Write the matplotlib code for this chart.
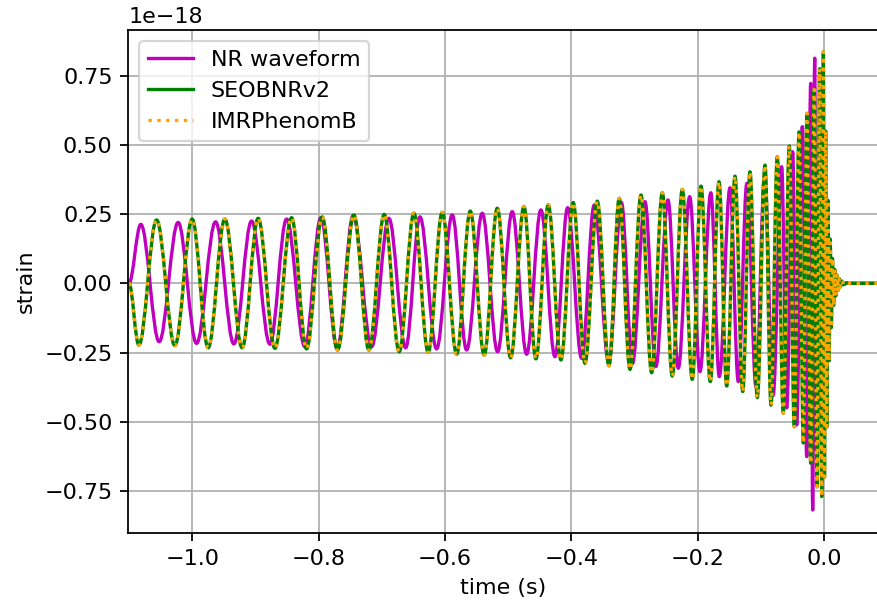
import numpy as np
import matplotlib
matplotlib.use("Agg")
from matplotlib import pyplot as plt
from matplotlib.path import Path
from matplotlib.patches import PathPatch

# turning points of each waveform (time in s, strain in 1e-18)
nr_t = [-1.100, -1.0812, -1.0522, -1.0222, -0.993, -0.963, -0.934, -0.906, -0.877,
        -0.8506, -0.8217, -0.7964, -0.7706, -0.7453, -0.7161, -0.6888, -0.6623,
        -0.6397, -0.6133, -0.5886, -0.5658, -0.5411, -0.5168, -0.4937, -0.4709,
        -0.4483, -0.4261, -0.406, -0.3839, -0.3639, -0.341, -0.321, -0.3035,
        -0.2837, -0.2665, -0.2473, -0.231, -0.213, -0.1967, -0.1795, -0.1661,
        -0.1492, -0.1361, -0.1225, -0.108, -0.0945, -0.081, -0.0674, -0.0595,
        -0.050, -0.0437, -0.0348, -0.0278, -0.0215, -0.0184, -0.0152, -0.013,
        -0.011, -0.009, -0.007, -0.005, -0.003, 0.0, 0.005, 0.085]
nr_h = [0.0, 0.213, -0.211, 0.220, -0.217, 0.222, -0.219, 0.225, -0.220,
        0.232, -0.229, 0.237, -0.235, 0.244, -0.229, 0.235, -0.233,
        0.240, -0.237, 0.247, -0.241, 0.253, -0.247, 0.259, -0.256,
        0.265, -0.265, 0.273, -0.271, 0.283, -0.285, 0.292, -0.290,
        0.295, -0.301, 0.301, -0.307, 0.313, -0.319, 0.327, -0.337,
        0.345, -0.355, 0.361, -0.375, 0.390, -0.405, 0.421, -0.450,
        0.475, -0.512, 0.566, -0.626, 0.722, -0.819, 0.813, -0.60,
        0.40, -0.25, 0.15, -0.08, 0.04, -0.01, 0.0, 0.0]

seob_t = [-1.100, -1.0843, -1.0563, -1.0274, -1.0, -0.9747, -0.9483, -0.9209,
          -0.8956, -0.8691, -0.8427, -0.819, -0.7943, -0.770, -0.7441, -0.7204,
          -0.6962, -0.6725, -0.6492, -0.6266, -0.6044, -0.5816, -0.5601, -0.538,
          -0.5174, -0.4962, -0.4752, -0.4562, -0.4367, -0.4166, -0.3972, -0.3786,
          -0.3592, -0.3407, -0.3244, -0.3074, -0.29, -0.2731, -0.2563, -0.2405,
          -0.2247, -0.2089, -0.1951, -0.1804, -0.1666, -0.1544, -0.1413, -0.1291,
          -0.1176, -0.106, -0.0938, -0.0843, -0.0744, -0.0649, -0.0554, -0.0475,
          -0.040, -0.0332, -0.0275, -0.0215, -0.016, -0.0115, -0.0075, -0.004,
          -0.0015, 0.0003, 0.0021, 0.0039, 0.0057, 0.0075, 0.0093, 0.0111,
          0.0129, 0.0147, 0.0165, 0.0183, 0.0201, 0.0219, 0.0237, 0.0255,
          0.028, 0.031, 0.035, 0.040, 0.085]
seob_h = [0.0, -0.223, 0.229, -0.225, 0.232, -0.233, 0.232, -0.233,
          0.235, -0.235, 0.237, -0.237, 0.240, -0.241, 0.247, -0.241,
          0.249, -0.247, 0.253, -0.249, 0.256, -0.256, 0.261, -0.259,
          0.271, -0.269, 0.277, -0.273, 0.283, -0.277, 0.292, -0.289,
          0.297, -0.298, 0.307, -0.311, 0.319, -0.323, 0.327, -0.335,
          0.339, -0.347, 0.351, -0.355, 0.367, -0.371, 0.387, -0.391,
          0.403, -0.413, 0.427, -0.440, 0.457, -0.469, 0.496, -0.518,
          0.547, -0.577, 0.614, -0.650, 0.700, -0.735, 0.775, -0.770,
          0.836, -0.700, 0.550, -0.520, 0.300, -0.280, 0.160, -0.160,
          0.090, -0.080, 0.050, -0.045, 0.030, -0.025, 0.017, -0.013,
          0.008, -0.005, 0.002, 0.0, 0.0]

# IMRPhenomB sits right on top of SEOBNRv2 in the picture
phenom_t = seob_t
phenom_h = seob_h


def wave(t, h):
    # smooth curve through the turning points, flat tangent at each one
    h = np.array(h) * 1e-18
    verts = [(t[0], h[0])]
    codes = [Path.MOVETO]
    for i in range(len(t) - 1):
        d = (t[i + 1] - t[i]) * 0.3634
        verts += [(t[i] + d, h[i]), (t[i + 1] - d, h[i + 1]), (t[i + 1], h[i + 1])]
        codes += [Path.CURVE4] * 3
    return Path(verts, codes)


fig = plt.figure(figsize=(877 / 160, 607 / 160), dpi=160)
ax = fig.add_axes([0.1463, 0.1214, 0.8549, 0.8292])

ax.add_patch(PathPatch(wave(nr_t, nr_h), fill=False, edgecolor="m", lw=1.5,
                       joinstyle="round", zorder=2))
ax.add_patch(PathPatch(wave(seob_t, seob_h), fill=False, edgecolor="g", lw=1.5,
                       joinstyle="round", zorder=2.01))
ax.add_patch(PathPatch(wave(phenom_t, phenom_h), fill=False, edgecolor="orange", lw=1.5,
                       linestyle=":", joinstyle="round", zorder=2.02))

# legend entries
ax.plot([], [], color="m", label="NR waveform")
ax.plot([], [], color="g", label="SEOBNRv2")
ax.plot([], [], color="orange", linestyle=":", label="IMRPhenomB")

ax.set_xlim(-1.101, 0.085)
ax.set_ylim(-0.903e-18, 0.915e-18)
ax.ticklabel_format(axis="y", style="sci", scilimits=(-18, -18))
ax.set_xlabel("time (s)")
ax.set_ylabel("strain")
ax.grid(True)
ax.legend(loc="upper left")

fig.savefig("out.png", dpi=160)
